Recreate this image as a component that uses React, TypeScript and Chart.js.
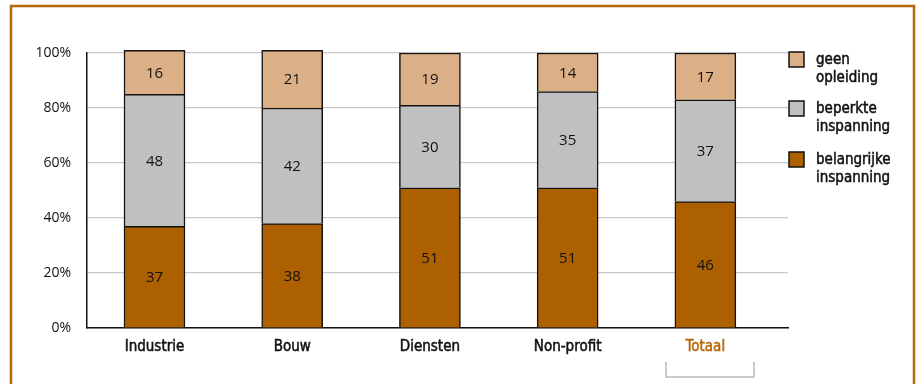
import React, { useEffect, useRef } from "react";
import { Chart, registerables } from "chart.js";

Chart.register(...registerables);

const categories = ["Industrie", "Bouw", "Diensten", "Non-profit", "Totaal"];
const belangrijke = [37, 38, 51, 51, 46];
const beperkte = [48, 42, 30, 35, 37];
const geen = [16, 21, 19, 14, 17];
const yTicks = [0, 20, 40, 60, 80, 100];
const legendLabels = [
  ["geen", "opleiding"],
  ["beperkte", "inspanning"],
  ["belangrijke", "inspanning"],
];

const ORANGE = "#B8680C";
const C_GEEN = "#DCB086";
const C_BEP = "#C0C0C0";
const C_BEL = "#AD6000";
const CONDENSED = "'DejaVu Sans Condensed', 'Liberation Sans Narrow', sans-serif";

const overlay = {
  id: "overlay",
  afterDatasetsDraw(chart: any) {
    const ctx = chart.ctx;
    ctx.save();
    ctx.font = "15px 'Open Sans', sans-serif";
    ctx.fillStyle = "#111";
    ctx.textAlign = "center";
    ctx.textBaseline = "middle";
    chart.data.datasets.forEach((ds: any, di: number) => {
      const meta = chart.getDatasetMeta(di);
      meta.data.forEach((bar: any, i: number) => {
        const v = ds.data[i].y;
        const yc = (bar.y + bar.base) / 2;
        ctx.fillText(String(v), bar.x, yc + 1);
      });
    });
    ctx.restore();
  },
  afterDraw(chart: any) {
    const ctx = chart.ctx;
    ctx.save();
    // frame
    ctx.strokeStyle = ORANGE;
    ctx.lineWidth = 2.5;
    ctx.strokeRect(11, 6, 903, 400);
    // legend (top to bottom: geen, beperkte, belangrijke)
    const order = [2, 1, 0];
    const boxY = [52, 101, 152];
    ctx.font = "15px " + CONDENSED;
    ctx.textBaseline = "middle";
    ctx.textAlign = "left";
    order.forEach((di, k) => {
      const ds = chart.data.datasets[di];
      ctx.fillStyle = ds.backgroundColor;
      ctx.fillRect(789, boxY[k], 15, 15);
      ctx.strokeStyle = "#111";
      ctx.lineWidth = 1.5;
      ctx.strokeRect(789, boxY[k], 15, 15);
      ctx.fillStyle = "#111";
      ctx.lineWidth = 0.5;
      const lines = legendLabels[k];
      lines.forEach((t, li) => {
        ctx.fillText(t, 816, boxY[k] + 8 + li * 18);
        ctx.strokeText(t, 816, boxY[k] + 8 + li * 18);
      });
    });
    // bracket under Totaal
    ctx.strokeStyle = "#BBBBBB";
    ctx.lineWidth = 1.5;
    ctx.beginPath();
    ctx.moveTo(666, 362);
    ctx.lineTo(666, 377);
    ctx.lineTo(754, 377);
    ctx.lineTo(754, 362);
    ctx.stroke();
    ctx.restore();
  },
};

export default function App() {
  const ref = useRef<HTMLCanvasElement>(null);
  useEffect(() => {
    if (!ref.current) return;
    const mk = (arr: number[]) => arr.map((v, i) => ({ x: i, y: v }));
    const common = { borderColor: "#111", borderWidth: 1.5, barThickness: 61, clip: false as any };
    const chart = new Chart(ref.current, {
      type: "bar",
      data: {
        datasets: [
          { label: "belangrijke inspanning", data: mk(belangrijke), backgroundColor: C_BEL, ...common },
          { label: "beperkte inspanning", data: mk(beperkte), backgroundColor: C_BEP, ...common },
          { label: "geen opleiding", data: mk(geen), backgroundColor: C_GEEN, ...common },
        ],
      },
      options: {
        animation: false,
        responsive: false,
        layout: { padding: { left: 0, top: 53, right: 129, bottom: 0 } },
        plugins: { legend: { display: false }, tooltip: { enabled: false } },
        scales: {
          x: {
            type: "linear",
            stacked: true,
            offset: false,
            min: -0.49,
            max: 4.6,
            grid: { display: false, drawTicks: false },
            border: { display: true, color: "#111", width: 1.5 },
            afterBuildTicks: (s: any) => {
              s.ticks = categories.map((_, i) => ({ value: i }));
            },
            afterFit: (s: any) => {
              s.height = 56;
            },
            ticks: {
              autoSkip: false,
              maxRotation: 0,
              padding: 10,
              font: { family: CONDENSED, size: 15 },
              color: (c: any) => (c.index === 4 ? ORANGE : "#111"),
              textStrokeColor: (c: any) => (c.index === 4 ? ORANGE : "#111"),
              textStrokeWidth: 0.5,
              callback: (v: any) => categories[Math.round(Number(v))] ?? "",
            } as any,
          },
          y: {
            stacked: true,
            min: 0,
            max: 100,
            grid: { color: "#C8C8C8", lineWidth: 1.2, drawTicks: false },
            border: { display: true, color: "#111", width: 1.5 },
            afterBuildTicks: (s: any) => {
              s.ticks = yTicks.map((v) => ({ value: v }));
            },
            afterFit: (s: any) => {
              s.width = 87;
            },
            ticks: {
              padding: 16,
              font: { family: "'Open Sans', sans-serif", size: 14 },
              color: "#111",
              callback: (v: any) => v + "%",
            },
          },
        },
      },
      plugins: [overlay],
    });
    return () => chart.destroy();
  }, []);
  return (
    <div style={{ position: "absolute", left: 0, top: 0, width: 917, height: 384, background: "#fff" }}>
      <canvas ref={ref} width={917} height={384} />
    </div>
  );
}
